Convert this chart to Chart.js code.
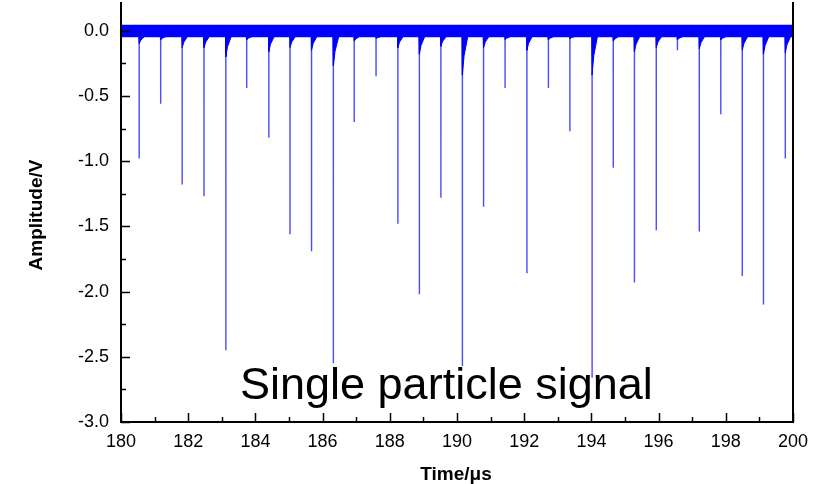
<!DOCTYPE html>
<html>
<head>
<meta charset="utf-8">
<script src="https://cdn.jsdelivr.net/npm/chart.js@4/dist/chart.umd.min.js"></script>
<style>
    html, body { margin: 0; padding: 0; background: #fff; }
    #wrap { width: 819px; height: 484px; }
</style>
</head>
<body>
<div id="wrap"><canvas id="signalChart" width="819" height="484"></canvas></div>
<script>
// ======= Data =======
// spike positions (µs) and their lowest amplitude (V)
const spikeTimes = [180.54, 181.18, 181.82, 182.47, 183.12, 183.74, 184.40, 185.03, 185.67, 186.32,
                    186.94, 187.59, 188.24, 188.88, 189.52, 190.16, 190.79, 191.43, 192.08, 192.72,
                    193.36, 194.02, 194.65, 195.28, 195.93, 196.56, 197.21, 197.85, 198.49, 199.12, 199.77];
const spikeDepths = [-0.98, -0.56, -1.18, -1.27, -2.45, -0.44, -0.82, -1.56, -1.69, -2.55,
                     -0.70, -0.35, -1.48, -2.02, -1.28, -2.57, -1.35, -0.44, -1.86, -0.44,
                     -0.77, -2.66, -1.05, -1.93, -1.53, -0.15, -1.54, -0.64, -1.88, -2.10, -0.98];
// dark tail just under the baseline right after each spike (V)
const spikeTails = [-0.10, -0.07, -0.13, -0.13, -0.20, -0.07, -0.16, -0.13, -0.15, -0.27,
                    -0.08, -0.06, -0.13, -0.18, -0.12, -0.34, -0.13, -0.07, -0.15, -0.07,
                    -0.06, -0.34, -0.08, -0.16, -0.13, -0.07, -0.14, -0.07, -0.15, -0.18, -0.17];
// baseline noise band (V)
const bandTop = 0.046;
const bandBottom = -0.045;

const xTickLabels = [180, 182, 184, 186, 188, 190, 192, 194, 196, 198, 200];
const yTickLabels = [0.0, -0.5, -1.0, -1.5, -2.0, -2.5, -3.0];

const BLUE = '#0000ff';
const FONT = '"Liberation Sans", Arial, sans-serif';

// ======= Build line points from the arrays =======
function spikePoints() {
    const pts = [{ x: 180, y: bandBottom }];
    spikeTimes.forEach((t, i) => {
        pts.push({ x: t, y: bandBottom });
        pts.push({ x: t, y: spikeDepths[i] });
        pts.push({ x: t + 0.002, y: bandBottom });
    });
    pts.push({ x: 200, y: bandBottom });
    return pts;
}

function bandPoints() {
    const pts = [{ x: 180, y: bandBottom }];
    spikeTimes.forEach((t, i) => {
        pts.push({ x: t - 0.01, y: bandBottom });
        pts.push({ x: t, y: spikeTails[i] });
        pts.push({ x: t + 0.05, y: (spikeTails[i] + bandBottom) / 2 });
        pts.push({ x: t + 0.16, y: bandBottom });
    });
    pts.push({ x: 200, y: bandBottom });
    return pts;
}

// ======= Frame, inward ticks and texts =======
const framePlugin = {
    id: 'frame',
    afterDraw(chart) {
        const ctx = chart.ctx;
        const { left, right, top, bottom } = chart.chartArea;
        const xs = chart.scales.x, ys = chart.scales.y;
        ctx.save();
        ctx.strokeStyle = '#000';
        ctx.lineWidth = 2;
        ctx.beginPath();
        ctx.moveTo(left, top); ctx.lineTo(left, bottom);
        ctx.lineTo(right, bottom); ctx.lineTo(right, top);
        ctx.stroke();

        ctx.lineWidth = 1.5;
        ctx.beginPath();
        xs.ticks.forEach(tk => {
            const px = Math.round(xs.getPixelForValue(tk.value)) + 0.5;
            const len = xTickLabels.includes(tk.value) ? 9 : 5;
            ctx.moveTo(px, bottom); ctx.lineTo(px, bottom - len);
        });
        ys.ticks.forEach(tk => {
            const py = Math.round(ys.getPixelForValue(tk.value)) + 0.5;
            const major = yTickLabels.some(v => Math.abs(v - tk.value) < 1e-6);
            ctx.moveTo(left, py); ctx.lineTo(left + (major ? 9 : 5), py);
        });
        ctx.stroke();

        // axis titles
        ctx.fillStyle = '#000';
        ctx.font = 'bold 19px ' + FONT;
        ctx.textAlign = 'center';
        ctx.textBaseline = 'alphabetic';
        ctx.fillText('Time/\u03bcs', 456, 480);
        ctx.save();
        ctx.translate(42, 215);
        ctx.rotate(-Math.PI / 2);
        ctx.fillText('Amplitude/V', 0, 0);
        ctx.restore();

        // overlay label
        ctx.font = '45px ' + FONT;
        ctx.textAlign = 'left';
        ctx.fillText('Single particle signal', 240, 399);
        ctx.restore();
    }
};

// ======= Chart =======
new Chart(document.getElementById('signalChart'), {
    type: 'line',
    data: {
        datasets: [
            {
                data: spikePoints(),
                borderColor: 'rgba(30, 30, 255, 0.8)',
                borderWidth: 1.4,
                pointRadius: 0,
                fill: false,
                order: 2
            },
            {
                data: bandPoints(),
                borderColor: BLUE,
                borderWidth: 1,
                backgroundColor: BLUE,
                pointRadius: 0,
                fill: { value: bandTop },
                order: 1
            }
        ]
    },
    plugins: [framePlugin],
    options: {
        responsive: false,
        animation: false,
        devicePixelRatio: 1,
        layout: { padding: { top: 2, right: 26, left: 0, bottom: 0 } },
        plugins: { legend: { display: false }, tooltip: { enabled: false } },
        scales: {
            x: {
                type: 'linear',
                min: 180, max: 200,
                grid: { display: false, drawTicks: false },
                border: { display: false },
                ticks: {
                    stepSize: 1,
                    padding: 9,
                    color: '#000',
                    font: { family: FONT, size: 18 },
                    maxRotation: 0,
                    autoSkip: false,
                    callback: v => xTickLabels.includes(v) ? String(v) : ''
                },
                afterFit: s => { s.height = 62; }
            },
            y: {
                min: -3, max: 0.22,
                grid: { display: false, drawTicks: false },
                border: { display: false },
                afterBuildTicks: s => { s.ticks = s.ticks.filter(t => t.value <= 0.001); },
                ticks: {
                    stepSize: 0.25,
                    padding: 12,
                    color: '#000',
                    font: { family: FONT, size: 18 },
                    autoSkip: false,
                    callback: v => yTickLabels.some(l => Math.abs(l - v) < 1e-6) ? v.toFixed(1) : ''
                },
                afterFit: s => { s.width = 121; s.paddingTop = 0; s.paddingBottom = 0; }
            }
        }
    }
});
</script>
</body>
</html>
